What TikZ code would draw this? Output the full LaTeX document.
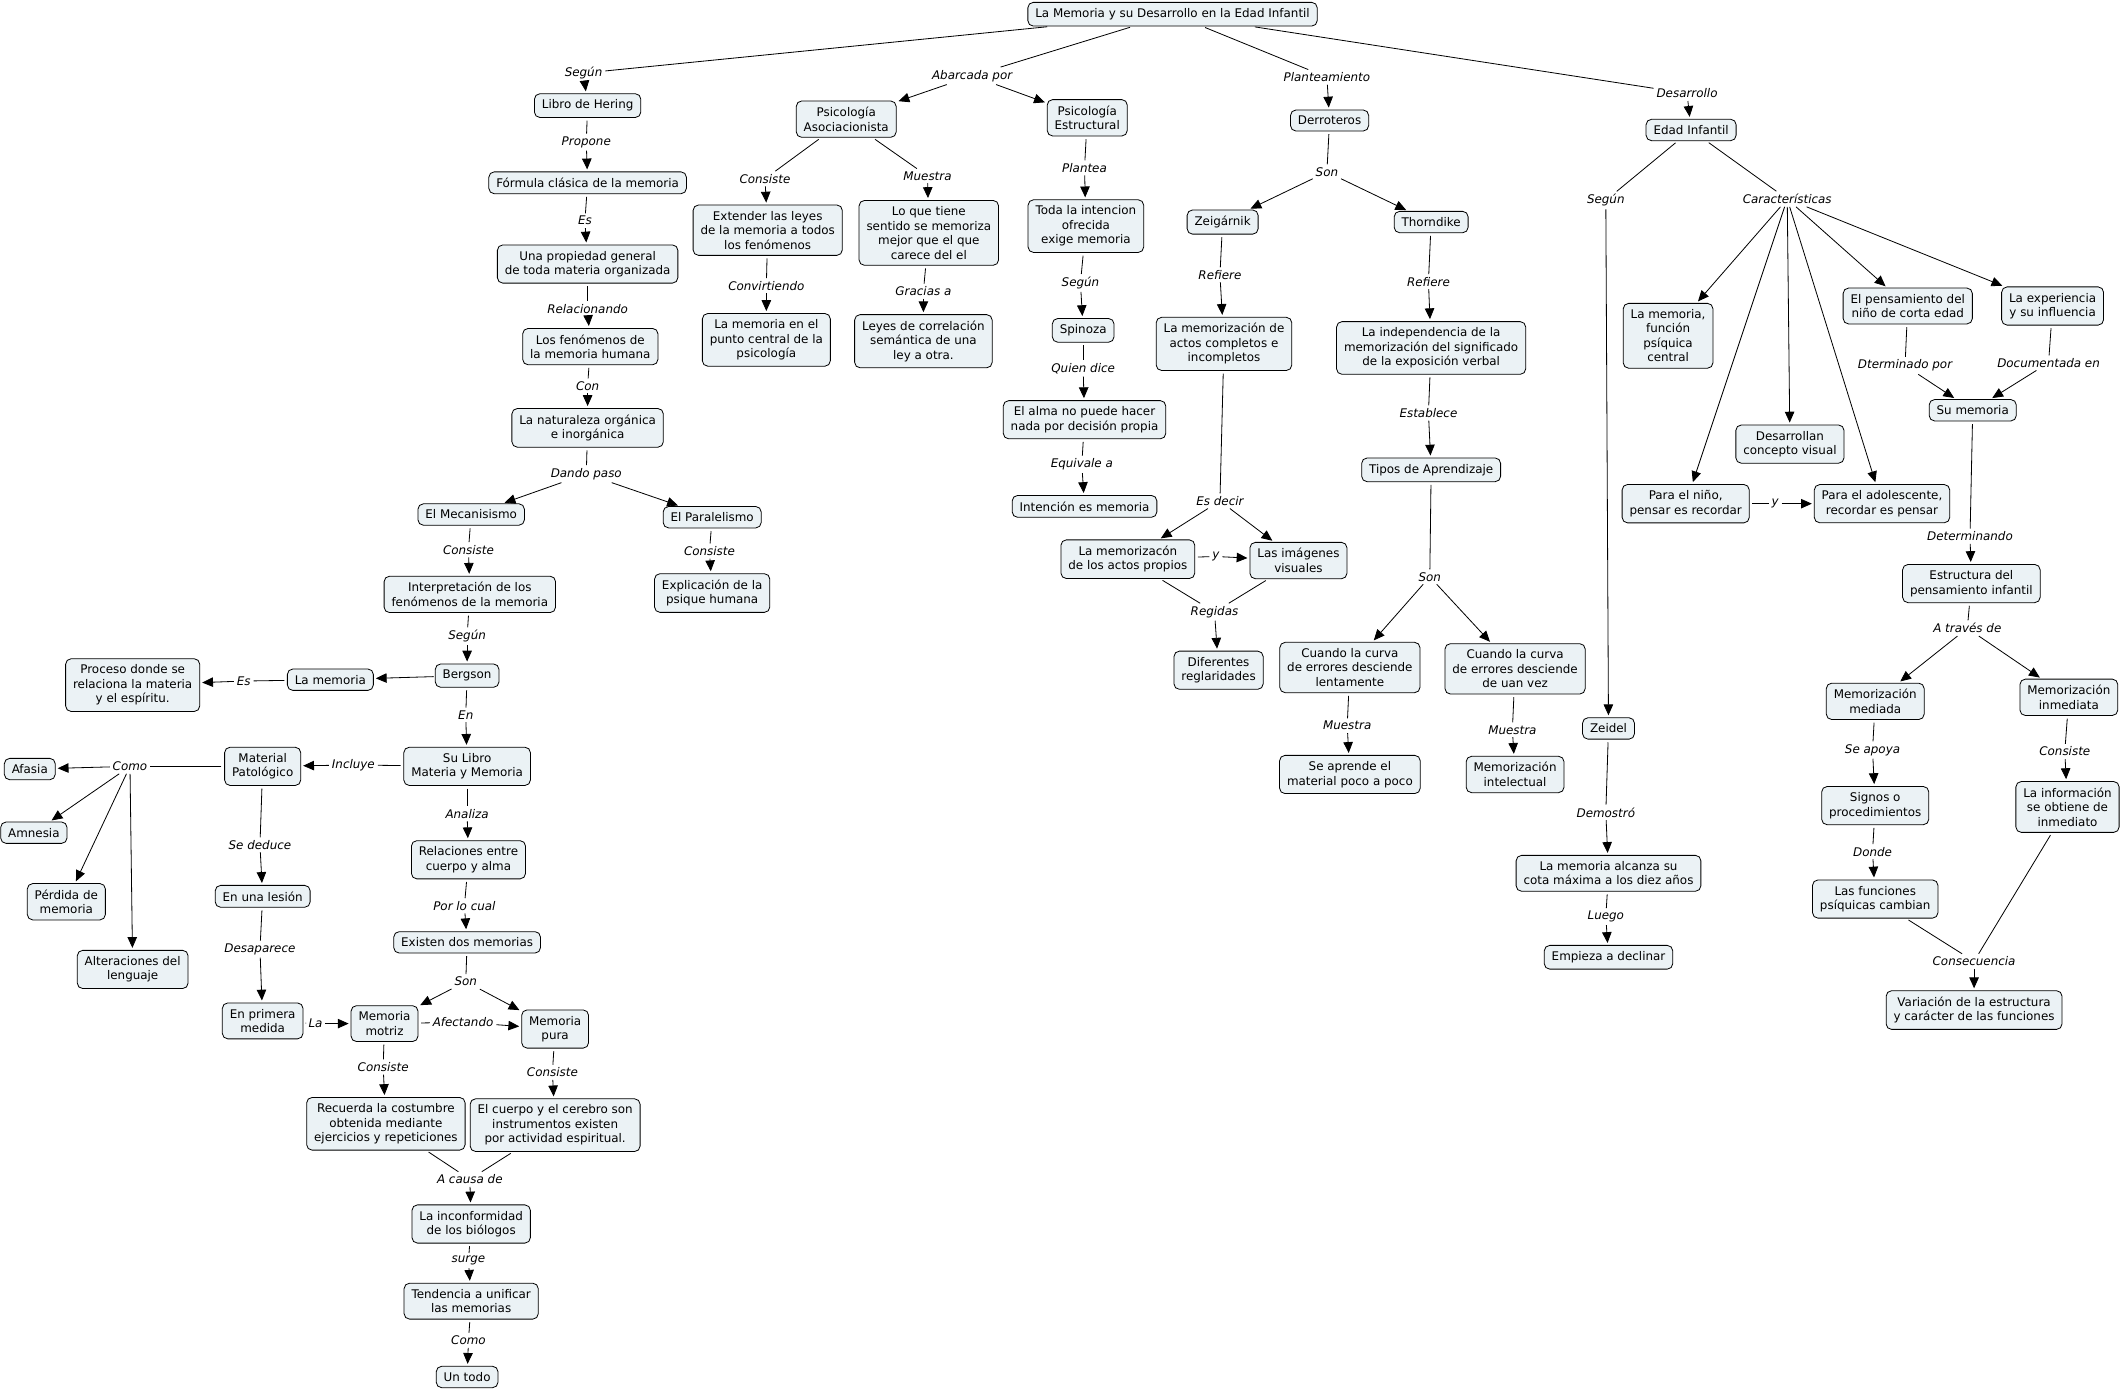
\documentclass[tikz,border=0pt]{standalone}
\usepackage{fontspec}
\setmainfont{DejaVu Sans}
\usetikzlibrary{arrows.meta}
\definecolor{boxfill}{RGB}{235,242,245}
\tikzset{
 cpt/.style={draw=black, line width=0.6pt, fill=boxfill, rounded corners=4pt, align=center, inner xsep=5.5pt, inner ysep=4.5pt, font=\fontsize{8.8}{10.7}\selectfont},
 lnk/.style={font=\fontsize{8.8}{10.7}\selectfont\itshape, inner sep=2pt},
 con/.style={line width=0.6pt, shorten <=2pt},
 arr/.style={line width=0.6pt, -{Triangle[length=8pt,width=7pt]}, shorten >=1.5pt},
}
\begin{document}
\begin{tikzpicture}[x=1pt,y=-1pt]
\fill[white] (0,0) rectangle (1568,1028);
\useasboundingbox (0,0) rectangle (1568,1028);

% root
\node[cpt] (root) at (866,10.5) {La Memoria y su Desarrollo en la Edad Infantil};

% ---------- left branch
\node[lnk] (l1) at (431,54) {Según};
\node[cpt] (hering) at (434,78) {Libro de Hering};
\node[lnk] (l2) at (433,105) {Propone};
\node[cpt] (formula) at (434,135) {Fórmula clásica de la memoria};
\node[lnk] (l3) at (432,163) {Es};
\node[cpt] (propiedad) at (434,195) {Una propiedad general\\de toda materia organizada};
\node[lnk] (l4) at (434,228) {Relacionando};
\node[cpt] (fenom) at (436,256) {Los fenómenos de\\la memoria humana};
\node[lnk] (l5) at (434,285) {Con};
\node[cpt] (natur) at (434,316) {La naturaleza orgánica\\e inorgánica};
\node[lnk] (l6) at (433,350) {Dando paso};
\node[cpt] (mecan) at (348,380) {El Mecanisismo};
\node[cpt] (parale) at (526,382) {El Paralelismo};
\node[lnk] (l7) at (346,406) {Consiste};
\node[lnk] (l8) at (524,407) {Consiste};
\node[cpt] (interp) at (347,439) {Interpretación de los\\fenómenos de la memoria};
\node[cpt] (explic) at (526,438) {Explicación de la\\psique humana};
\node[lnk] (l9) at (345,470) {Según};
\node[cpt] (bergson) at (345,499) {Bergson};
\node[cpt] (lamem) at (244,502) {La memoria};
\node[lnk] (l10) at (180,503) {Es};
\node[cpt] (proceso) at (98,506) {Proceso donde se\\relaciona la materia\\y el espíritu.};
\node[lnk] (l11) at (344,528) {En};
\node[cpt] (sulibro) at (345,566) {Su Libro\\Materia y Memoria};
\node[lnk] (l12) at (261,565) {Incluye};
\node[cpt] (matpat) at (194,566) {Material\\Patológico};
\node[lnk] (l13) at (96,566) {Como};
\node[cpt] (afasia) at (22,568) {Afasia};
\node[cpt] (amnesia) at (25,615) {Amnesia};
\node[cpt] (perdida) at (49,666) {Pérdida de\\memoria};
\node[cpt] (alter) at (98,716) {Alteraciones del\\lenguaje};
\node[lnk] (l14) at (192,624) {Se deduce};
\node[cpt] (lesion) at (194,662) {En una lesión};
\node[lnk] (l15) at (192,701) {Desaparece};
\node[cpt] (primera) at (194,754) {En primera\\medida};
\node[lnk] (l16) at (233,756) {La};
\node[cpt] (motriz) at (284,756) {Memoria\\motriz};
\node[lnk] (l17) at (345,601) {Analiza};
\node[cpt] (relac) at (346,635) {Relaciones entre\\cuerpo y alma};
\node[lnk] (l18) at (343,669) {Por lo cual};
\node[cpt] (existen) at (345,696) {Existen dos memorias};
\node[lnk] (l19) at (344,725) {Son};
\node[cpt] (pura) at (410,760) {Memoria\\pura};
\node[lnk] (l20) at (342,755) {Afectando};
\node[lnk] (l21) at (283,788) {Consiste};
\node[cpt] (recuerda) at (285,830) {Recuerda la costumbre\\obtenida mediante\\ejercicios y repeticiones};
\node[lnk] (l22) at (408,792) {Consiste};
\node[cpt] (cuerpo) at (410,831) {El cuerpo y el cerebro son\\instrumentos existen\\por actividad espiritual.};
\node[lnk] (l23) at (347,871) {A causa de};
\node[cpt] (inconf) at (348,904) {La inconformidad\\de los biólogos};
\node[lnk] (l24) at (346,931) {surge};
\node[cpt] (tendencia) at (348,961) {Tendencia a unificar\\las memorias};
\node[lnk] (l25) at (346,990) {Como};
\node[cpt] (untodo) at (345,1017) {Un todo};

% ---------- middle branch
\node[lnk] (m1) at (718,56) {Abarcada por};
\node[cpt] (asoc) at (625,88) {Psicología\\Asociacionista};
\node[cpt] (estruc) at (803,87) {Psicología\\Estructural};
\node[lnk] (m2) at (565,132) {Consiste};
\node[cpt] (extender) at (567,170) {Extender las leyes\\de la memoria a todos\\los fenómenos};
\node[lnk] (m3) at (685,130) {Muestra};
\node[cpt] (loque) at (686,172) {Lo que tiene\\sentido se memoriza\\mejor que el que\\carece del el};
\node[lnk] (m4) at (566,211) {Convirtiendo};
\node[cpt] (central) at (566,251) {La memoria en el\\punto central de la\\psicología};
\node[lnk] (m5) at (682,215) {Gracias a};
\node[cpt] (leyes) at (682,252) {Leyes de correlación\\semántica de una\\ley a otra.};
\node[lnk] (m6) at (801,124) {Plantea};
\node[cpt] (toda) at (802,167) {Toda la intencion\\ofrecida\\exige memoria};
\node[lnk] (m7) at (798,209) {Según};
\node[cpt] (spinoza) at (800,244) {Spinoza};
\node[lnk] (m8) at (800,272) {Quien dice};
\node[cpt] (alma) at (801,310) {El alma no puede hacer\\nada por decisión propia};
\node[lnk] (m9) at (799,343) {Equivale a};
\node[cpt] (intencion) at (801,374) {Intención es memoria};

% ---------- planteamiento branch
\node[lnk] (p1) at (980,57) {Planteamiento};
\node[cpt] (derrot) at (982,89) {Derroteros};
\node[lnk] (p2) at (980,127) {Son};
\node[cpt] (zeig) at (903,164) {Zeigárnik};
\node[cpt] (thorn) at (1057,164) {Thorndike};
\node[lnk] (p3) at (901,203) {Refiere};
\node[cpt] (actos) at (904,254) {La memorización de\\actos completos e\\incompletos};
\node[lnk] (p4) at (1055,208) {Refiere};
\node[cpt] (indep) at (1057,257) {La independencia de la\\memorización del significado\\de la exposición verbal};
\node[lnk] (p5) at (901,370) {Es decir};
\node[cpt] (propios) at (833,413) {La memorizacón\\de los actos propios};
\node[cpt] (imagenes) at (959,414) {Las imágenes\\visuales};
\node[lnk] (p6) at (898,411) {y};
\node[lnk] (p7) at (897,452) {Regidas};
\node[cpt] (difer) at (900,495) {Diferentes\\reglaridades};
\node[lnk] (p8) at (1055,305) {Establece};
\node[cpt] (tipos) at (1057,347) {Tipos de Aprendizaje};
\node[lnk] (p9) at (1056,426) {Son};
\node[cpt] (lenta) at (997,493) {Cuando la curva\\de errores desciende\\lentamente};
\node[cpt] (vez) at (1119,494) {Cuando la curva\\de errores desciende\\de uan vez};
\node[lnk] (p10) at (995,536) {Muestra};
\node[cpt] (poco) at (997,572) {Se aprende el\\material poco a poco};
\node[lnk] (p11) at (1117,539) {Muestra};
\node[cpt] (intelec) at (1119,572) {Memorización\\intelectual};

% ---------- desarrollo branch
\node[lnk] (d1) at (1246,69) {Desarrollo};
\node[cpt] (edad) at (1249,96) {Edad Infantil};
\node[lnk] (d2) at (1186,148) {Según};
\node[cpt] (zeidel) at (1188,538) {Zeidel};
\node[lnk] (d3) at (1186,600) {Demostró};
\node[cpt] (cota) at (1188,645) {La memoria alcanza su\\cota máxima a los diez años};
\node[lnk] (d4) at (1186,677) {Luego};
\node[cpt] (declinar) at (1188,707) {Empieza a declinar};
\node[lnk] (d5) at (1320,147) {Características};
\node[cpt] (funcion) at (1232,248) {La memoria,\\función\\psíquica\\central};
\node[cpt] (nino) at (1245,372) {Para el niño,\\pensar es recordar};
\node[cpt] (visual) at (1322,328) {Desarrollan\\concepto visual};
\node[cpt] (adol) at (1390,372) {Para el adolescente,\\recordar es pensar};
\node[cpt] (pensam) at (1409,226) {El pensamiento del\\niño de corta edad};
\node[cpt] (exper) at (1516,226) {La experiencia\\y su influencia};
\node[lnk] (d6) at (1311,372) {y};
\node[lnk] (d7) at (1407,270) {Dterminado por};
\node[lnk] (d8) at (1513,268) {Documentada en};
\node[cpt] (sumem) at (1457,303) {Su memoria};
\node[lnk] (d9) at (1455,396) {Determinando};
\node[cpt] (estr) at (1456,431) {Estructura del\\pensamiento infantil};
\node[lnk] (d10) at (1453,464) {A través de};
\node[cpt] (mediada) at (1385,518) {Memorización\\mediada};
\node[cpt] (inmediata) at (1528,515) {Memorización\\inmediata};
\node[lnk] (d11) at (1383,554) {Se apoya};
\node[cpt] (signos) at (1385,595) {Signos o\\procedimientos};
\node[lnk] (d12) at (1383,629) {Donde};
\node[cpt] (funciones) at (1385,664) {Las funciones\\psíquicas cambian};
\node[lnk] (d13) at (1525,555) {Consiste};
\node[cpt] (info) at (1527,596) {La información\\se obtiene de\\inmediato};
\node[lnk] (d14) at (1458,710) {Consecuencia};
\node[cpt] (variac) at (1458,746) {Variación de la estructura\\y carácter de las funciones};

% ================= connectors
% left
\draw[con] (root) -- (l1); \draw[arr] (l1) -- (hering);
\draw[con] (hering) -- (l2); \draw[arr] (l2) -- (formula);
\draw[con] (formula) -- (l3); \draw[arr] (l3) -- (propiedad);
\draw[con] (propiedad) -- (l4); \draw[arr] (l4) -- (fenom);
\draw[con] (fenom) -- (l5); \draw[arr] (l5) -- (natur);
\draw[con] (natur) -- (l6); \draw[arr] (l6) -- (mecan); \draw[arr] (l6) -- (parale);
\draw[con] (mecan) -- (l7); \draw[arr] (l7) -- (interp);
\draw[con] (parale) -- (l8); \draw[arr] (l8) -- (explic);
\draw[con] (interp) -- (l9); \draw[arr] (l9) -- (bergson);
\draw[arr, shorten <=1pt] (bergson) -- (lamem);
\draw[con] (lamem) -- (l10); \draw[arr] (l10) -- (proceso);
\draw[con] (bergson) -- (l11); \draw[arr] (l11) -- (sulibro);
\draw[con] (sulibro) -- (l12); \draw[arr] (l12) -- (matpat);
\draw[con] (matpat) -- (l13);
\draw[arr] (l13) -- (afasia); \draw[arr] (l13) -- (amnesia); \draw[arr] (l13) -- (perdida); \draw[arr] (l13) -- (alter);
\draw[con] (matpat) -- (l14); \draw[arr] (l14) -- (lesion);
\draw[con] (lesion) -- (l15); \draw[arr] (l15) -- (primera);
\draw[con] (primera) -- (l16); \draw[arr] (l16) -- (motriz);
\draw[con] (sulibro) -- (l17); \draw[arr] (l17) -- (relac);
\draw[con] (relac) -- (l18); \draw[arr] (l18) -- (existen);
\draw[con] (existen) -- (l19); \draw[arr] (l19) -- (motriz); \draw[arr] (l19) -- (pura);
\draw[con] (motriz) -- (l20); \draw[arr] (l20) -- (pura);
\draw[con] (motriz) -- (l21); \draw[arr] (l21) -- (recuerda);
\draw[con] (pura) -- (l22); \draw[arr] (l22) -- (cuerpo);
\draw[con] (recuerda) -- (l23); \draw[con] (cuerpo) -- (l23); \draw[arr] (l23) -- (inconf);
\draw[con] (inconf) -- (l24); \draw[arr] (l24) -- (tendencia);
\draw[con] (tendencia) -- (l25); \draw[arr] (l25) -- (untodo);

% middle
\draw[con] (root) -- (m1); \draw[arr] (m1) -- (asoc); \draw[arr] (m1) -- (estruc);
\draw[con] (asoc) -- (m2); \draw[arr] (m2) -- (extender);
\draw[con] (asoc) -- (m3); \draw[arr] (m3) -- (loque);
\draw[con] (extender) -- (m4); \draw[arr] (m4) -- (central);
\draw[con] (loque) -- (m5); \draw[arr] (m5) -- (leyes);
\draw[con] (estruc) -- (m6); \draw[arr] (m6) -- (toda);
\draw[con] (toda) -- (m7); \draw[arr] (m7) -- (spinoza);
\draw[con] (spinoza) -- (m8); \draw[arr] (m8) -- (alma);
\draw[con] (alma) -- (m9); \draw[arr] (m9) -- (intencion);

% planteamiento
\draw[con] (root) -- (p1); \draw[arr] (p1) -- (derrot);
\draw[con] (derrot) -- (p2); \draw[arr] (p2) -- (zeig); \draw[arr] (p2) -- (thorn);
\draw[con] (zeig) -- (p3); \draw[arr] (p3) -- (actos);
\draw[con] (thorn) -- (p4); \draw[arr] (p4) -- (indep);
\draw[con] (actos) -- (p5); \draw[arr] (p5) -- (propios); \draw[arr] (p5) -- (imagenes);
\draw[con] (propios) -- (p6); \draw[arr] (p6) -- (imagenes);
\draw[con] (propios) -- (p7); \draw[con] (imagenes) -- (p7); \draw[arr] (p7) -- (difer);
\draw[con] (indep) -- (p8); \draw[arr] (p8) -- (tipos);
\draw[con] (tipos) -- (p9); \draw[arr] (p9) -- (lenta); \draw[arr] (p9) -- (vez);
\draw[con] (lenta) -- (p10); \draw[arr] (p10) -- (poco);
\draw[con] (vez) -- (p11); \draw[arr] (p11) -- (intelec);

% desarrollo
\draw[con] (root) -- (d1); \draw[arr] (d1) -- (edad);
\draw[con] (edad) -- (d2); \draw[arr] (d2) -- (zeidel);
\draw[con] (zeidel) -- (d3); \draw[arr] (d3) -- (cota);
\draw[con] (cota) -- (d4); \draw[arr] (d4) -- (declinar);
\draw[con] (edad) -- (d5);
\draw[arr] (d5) -- (funcion); \draw[arr] (d5) -- (nino); \draw[arr] (d5) -- (visual);
\draw[arr] (d5) -- (adol); \draw[arr] (d5) -- (pensam); \draw[arr] (d5) -- (exper);
\draw[con] (nino) -- (d6); \draw[arr] (d6) -- (adol);
\draw[con] (pensam) -- (d7); \draw[arr] (d7) -- (sumem);
\draw[con] (exper) -- (d8); \draw[arr] (d8) -- (sumem);
\draw[con] (sumem) -- (d9); \draw[arr] (d9) -- (estr);
\draw[con] (estr) -- (d10); \draw[arr] (d10) -- (mediada); \draw[arr] (d10) -- (inmediata);
\draw[con] (mediada) -- (d11); \draw[arr] (d11) -- (signos);
\draw[con] (signos) -- (d12); \draw[arr] (d12) -- (funciones);
\draw[con] (inmediata) -- (d13); \draw[arr] (d13) -- (info);
\draw[con] (funciones) -- (d14); \draw[con] (info) -- (d14); \draw[arr] (d14) -- (variac);
\end{tikzpicture}
\end{document}
